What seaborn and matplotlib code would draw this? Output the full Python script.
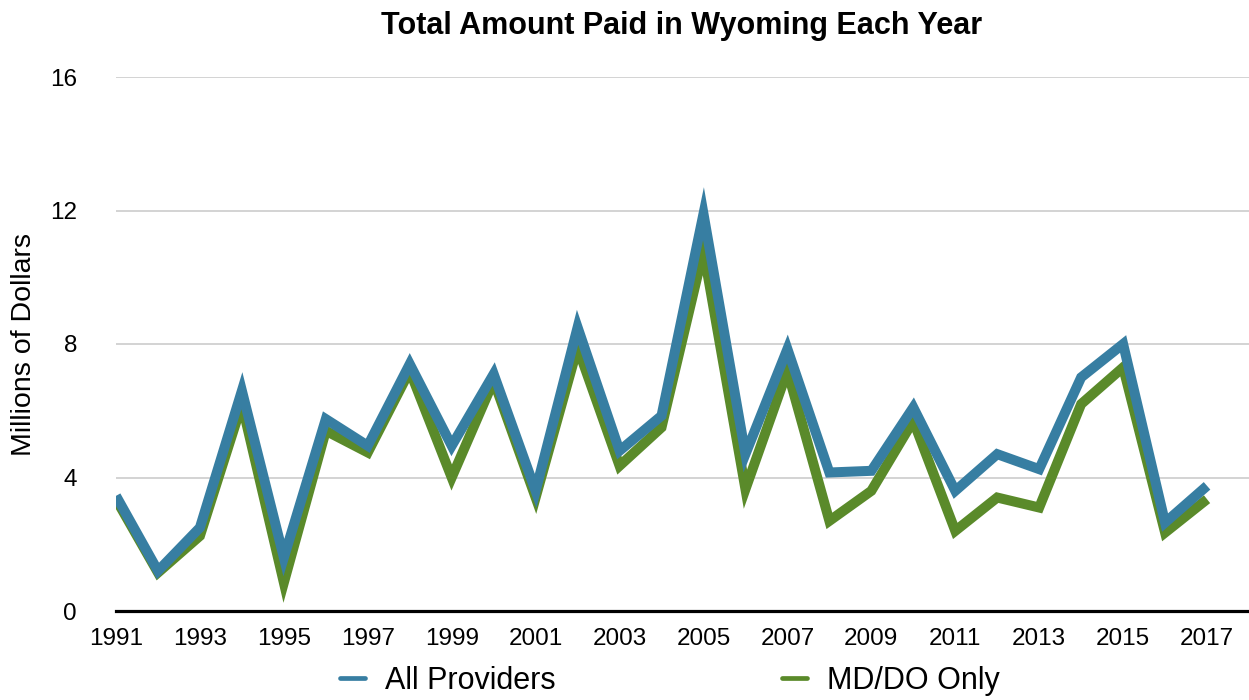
import pandas as pd
import numpy as np
import matplotlib.pyplot as plt
import seaborn as sns
from matplotlib.lines import Line2D

# Values (millions of dollars)
years = list(range(1991, 2018))
all_providers = [3.45, 1.2, 2.5, 6.6, 1.6, 5.75, 4.95, 7.4, 4.95, 7.1,
                 3.6, 8.5, 4.8, 5.85, 11.9, 4.7, 7.85, 4.15, 4.2, 6.1,
                 3.6, 4.7, 4.25, 7.0, 8.0, 2.65, 3.75]
md_do_only = [3.35, 1.15, 2.25, 6.2, 0.85, 5.4, 4.75, 7.2, 4.0, 6.9,
              3.4, 7.9, 4.35, 5.5, 10.8, 3.65, 7.2, 2.7, 3.6, 5.7,
              2.4, 3.4, 3.1, 6.2, 7.3, 2.35, 3.35]
series_names = ["All Providers", "MD/DO Only"]
colors = {"All Providers": "#377EA2", "MD/DO Only": "#5A8A2A"}
y_ticks = [0, 4, 8, 12, 16]
x_ticks = list(range(1991, 2018, 2))

df = pd.DataFrame({
    "year": years * 2,
    "amount": all_providers + md_do_only,
    "series": ["All Providers"] * len(years) + ["MD/DO Only"] * len(years),
})

sns.set_style("white")
plt.rcParams["font.family"] = ["Liberation Sans", "DejaVu Sans"]
plt.rcParams["text.color"] = "black"
plt.rcParams["axes.labelcolor"] = "black"
plt.rcParams["xtick.color"] = "black"
plt.rcParams["ytick.color"] = "black"

fig = plt.figure(figsize=(12.49, 7), dpi=100)
ax = fig.add_axes([116 / 1249, 1 - 611 / 700, 1 - 116 / 1249, (611 - 77) / 700])

# draw MD/DO first so All Providers sits on top
sns.lineplot(data=df, x="year", y="amount", hue="series",
             hue_order=["MD/DO Only", "All Providers"], palette=colors,
             linewidth=7.2, ax=ax, legend=False)
for ln in ax.get_lines():
    ln.set_solid_joinstyle("miter")
    ln.set_solid_capstyle("butt")

ax.set_xlim(1991, 2018)
ax.set_ylim(0, 16)
ax.set_yticks(y_ticks)
ax.set_xticks(x_ticks)
ax.set_xticklabels([str(y) for y in x_ticks], fontsize=17.5)
ax.set_yticklabels([str(v) for v in y_ticks], fontsize=17.5)
ax.tick_params(axis="y", length=0, pad=28)
ax.tick_params(axis="x", length=0, pad=12)
ax.yaxis.grid(True, color="#CCCCCC", linewidth=1.2)
ax.set_axisbelow(True)

for s in ["left", "right", "top"]:
    ax.spines[s].set_visible(False)
ax.spines["bottom"].set_color("black")
ax.spines["bottom"].set_linewidth(2.3)
ax.spines["bottom"].set_zorder(5)

ax.set_xlabel("")
ax.set_ylabel("Millions of Dollars", fontsize=20.5)
ax.yaxis.set_label_coords(-(116 - 37) / 1133, 0.5)

fig.text(682 / 1249, 1 - 26 / 700, "Total Amount Paid in Wyoming Each Year",
         ha="center", va="center", fontsize=22, fontweight="bold")

handles = [Line2D([], [], color=colors[n], linewidth=3.4) for n in series_names]
fig.legend(handles, series_names, loc="center", ncol=2, frameon=False,
           bbox_to_anchor=(670 / 1249, 1 - 681 / 700), fontsize=22,
           handlelength=0.82, handletextpad=0.65, columnspacing=7.4)

fig.savefig("out.png", dpi=100)
